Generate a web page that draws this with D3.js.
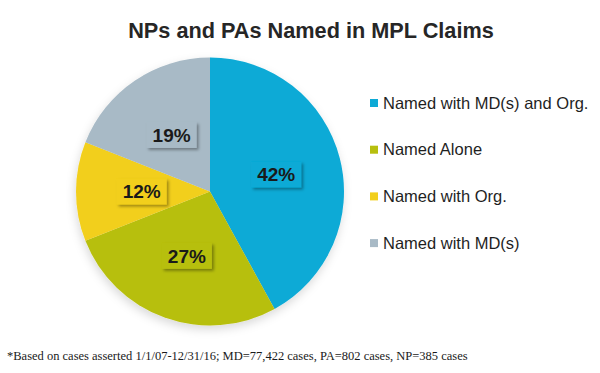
<!DOCTYPE html>
<html>
<head>
<meta charset="utf-8">
<script src="https://cdn.jsdelivr.net/npm/d3@7"></script>
<style>
  body { margin: 0; background: #fff; }
  svg { display: block; }
</style>
</head>
<body>
<div id="chart"></div>
<script>
var categories = ["Named with MD(s) and Org.", "Named Alone", "Named with Org.", "Named with MD(s)"];
var values = [42, 27, 12, 19];
var colors = ["#0DAAD6", "#B7BF0E", "#F2CF1C", "#A8BAC6"];
var title = "NPs and PAs Named in MPL Claims";
var footnote = "*Based on cases asserted 1/1/07-12/31/16; MD=77,422 cases, PA=802 cases, NP=385 cases";

var width = 600, height = 373;
var cx = 210, cy = 191.5, radius = 134;

var svg = d3.select("#chart").append("svg")
	.attr("width", width)
	.attr("height", height);

var defs = svg.append("defs");
var pieShadow = defs.append("filter").attr("id", "pieShadow")
	.attr("x", "-20%").attr("y", "-20%").attr("width", "140%").attr("height", "140%");
pieShadow.append("feDropShadow")
	.attr("dx", -1).attr("dy", 4).attr("stdDeviation", 5)
	.attr("flood-color", "#000").attr("flood-opacity", 0.15);

var boxShadow = defs.append("filter").attr("id", "boxShadow")
	.attr("x", "-30%").attr("y", "-30%").attr("width", "160%").attr("height", "160%");
boxShadow.append("feDropShadow")
	.attr("dx", 2).attr("dy", 2).attr("stdDeviation", 1.5)
	.attr("flood-color", "#000").attr("flood-opacity", 0.35);

// title
svg.append("text")
	.attr("x", 311).attr("y", 38)
	.attr("text-anchor", "middle")
	.style("font", "bold 21.7px 'Liberation Sans', Arial, sans-serif")
	.style("fill", "#262626")
	.text(title);

var pie = d3.pie().sort(null).value(function(d) { return d; });
var arc = d3.arc().innerRadius(0).outerRadius(radius);
var labelArc = d3.arc().innerRadius(radius * 0.51).outerRadius(radius * 0.51);

var arcs = pie(values);

var g = svg.append("g").attr("transform", "translate(" + cx + "," + cy + ")");

g.append("g").attr("filter", "url(#pieShadow)")
	.selectAll("path")
	.data(arcs)
	.enter().append("path")
	.attr("d", arc)
	.style("fill", function(d, i) { return colors[i]; });

// percentage labels with boxes
var labels = g.selectAll(".lbl")
	.data(arcs)
	.enter().append("g")
	.attr("class", "lbl")
	.attr("transform", function(d) {
		var c = labelArc.centroid(d);
		return "translate(" + c[0] + "," + c[1] + ")";
	});

labels.append("rect")
	.attr("x", -25).attr("y", -13)
	.attr("width", 50).attr("height", 26)
	.attr("filter", "url(#boxShadow)")
	.style("fill", function(d, i) { return colors[i]; });

labels.append("text")
	.attr("text-anchor", "middle")
	.attr("dy", "0.36em")
	.style("font", "bold 19px 'Liberation Sans', Arial, sans-serif")
	.style("fill", "#1a1a1a")
	.text(function(d) { return d.data + "%"; });

// legend
var legend = svg.selectAll(".legend")
	.data(categories)
	.enter().append("g")
	.attr("class", "legend")
	.attr("transform", function(d, i) { return "translate(370," + (103 + i * 46.7) + ")"; });

legend.append("rect")
	.attr("x", 0).attr("y", -4)
	.attr("width", 8).attr("height", 8)
	.style("fill", function(d, i) { return colors[i]; });

legend.append("text")
	.attr("x", 13).attr("dy", "0.35em")
	.style("font", "16.5px 'Liberation Sans', Arial, sans-serif")
	.style("fill", "#1f1f1f")
	.text(function(d) { return d; });

// footnote
svg.append("text")
	.attr("x", 7).attr("y", 360)
	.style("font", "12.5px 'Liberation Serif', Georgia, serif")
	.style("fill", "#1a1a1a")
	.text(footnote);
</script>
</body>
</html>
